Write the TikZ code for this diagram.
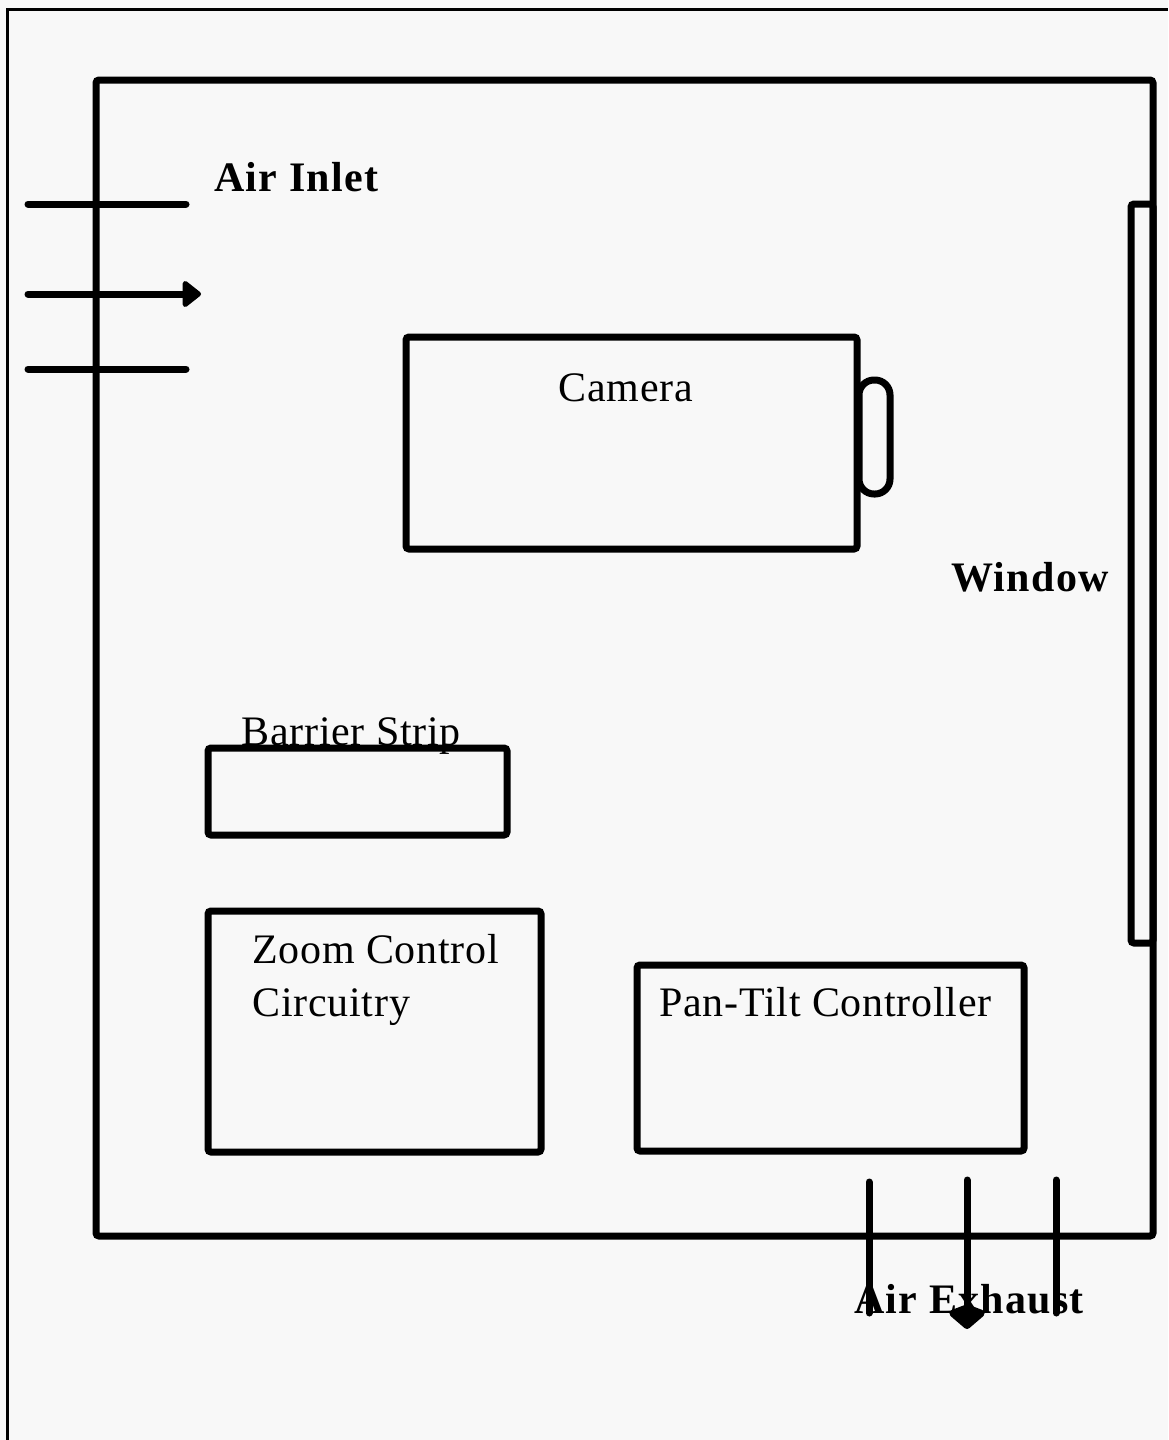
\documentclass[tikz,border=0pt]{standalone}
\usepackage{fontspec}
\setmainfont{Liberation Serif}
\newfontfamily\flowfont[LetterSpace=3]{Liberation Serif}
\newfontfamily\partfont[LetterSpace=1.8]{Liberation Serif}
\usetikzlibrary{arrows.meta}
\definecolor{paper}{HTML}{F8F8F8}
\tikzstyle{part-box} = [draw=black, line width=3.5pt, rounded corners=1.5pt,
    rectangle, inner sep=0pt, outer sep=0pt, anchor=north west]
\tikzstyle{part-label} = [inner sep=0pt, font=\fontsize{21}{26}\selectfont\partfont]
\tikzstyle{flow-label} = [inner sep=0pt, font=\fontsize{21}{26}\selectfont\flowfont\bfseries]
\tikzstyle{flow-line} = [line width=3.5pt, line cap=round]
\tikzstyle{page-edge} = [line width=1.5pt]

\begin{document}
\begin{tikzpicture}[x=0.5pt, y=-0.5pt]
\fill[paper] (0,0) rectangle (1168,1440);
\useasboundingbox (0,0) rectangle (1168,1440);
% page edge
\draw[page-edge] (7,1440) -- (7,9) -- (1168,9);
% housing and window
\node[part-box, minimum width=528.5pt, minimum height=578pt] (housing) at (96,80) {};
\node[part-box, minimum width=11pt, minimum height=369.5pt] (window) at (1131,204) {};
\node[flow-label, anchor=base west] (window-lbl) at (951,591) {Window};
% camera with lens
\node[part-box, minimum width=225.5pt, minimum height=106pt] (camera) at (406,337) {};
\node[part-box, rounded corners=7.5pt, minimum width=15.5pt, minimum height=57pt] (lens) at (859,380) {};
\node[part-label, anchor=base] (camera-lbl) at (626,401) {Camera};
% boards
\node[part-box, minimum width=149.5pt, minimum height=43.5pt] (barrier) at (208,748) {};
\node[part-label, anchor=base west] (barrier-lbl) at (241,745) {Barrier Strip};
\node[part-box, minimum width=166.5pt, minimum height=120.5pt] (zoomctl) at (208,911) {};
\node[part-label, anchor=base west] (zoomctl-lbl1) at (252,963) {Zoom Control};
\node[part-label, anchor=base west] (zoomctl-lbl2) at (252,1016) {Circuitry};
\node[part-box, minimum width=193.5pt, minimum height=93pt] (pantilt) at (637,965) {};
\node[part-label, anchor=base west] (pantilt-lbl) at (659,1016) {Pan-Tilt Controller};
% air inlet
\node[flow-label, anchor=base west] (inlet-lbl) at (214,191) {Air Inlet};
\coordinate (in1a) at (28,204);  \coordinate (in1b) at (186,204);
\coordinate (in2a) at (28,294);  \coordinate (in2b) at (201,294);
\coordinate (in3a) at (28,369);  \coordinate (in3b) at (186,369);
\draw[flow-line] (in1a) -- (in1b);
\draw[flow-line, -{Triangle[length=10pt, width=15pt, round]}] (in2a) -- (in2b);
\draw[flow-line] (in3a) -- (in3b);
% air exhaust
\node[flow-label, anchor=base west] (exhaust-lbl) at (854,1313) {Air Exhaust};
\coordinate (ex1a) at (869,1182);  \coordinate (ex1b) at (869,1313);
\coordinate (ex2a) at (967,1180);  \coordinate (ex2b) at (967,1329);
\coordinate (ex3a) at (1056,1180); \coordinate (ex3b) at (1056,1313);
\draw[flow-line] (ex1a) -- (ex1b);
\draw[flow-line, -{Kite[length=13pt, width=21pt, inset=4pt, round]}] (ex2a) -- (ex2b);
\draw[flow-line] (ex3a) -- (ex3b);
\end{tikzpicture}
\end{document}
